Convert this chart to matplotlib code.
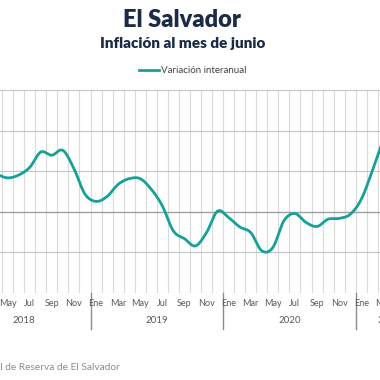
import numpy as np
import matplotlib
matplotlib.use("Agg")
import matplotlib.pyplot as plt
from matplotlib.lines import Line2D
import matplotlib.transforms as mtransforms

# ---- data ----
month_labels = ["Ene", "Feb", "Mar", "Abr", "May", "Jun", "Jul", "Ago", "Sep", "Oct", "Nov", "Dic"]
years = ["2018", "2019", "2020", "2021"]
n_months = 42  # Jan 2018 .. Jun 2021 (categories on axis)
series_start = 3  # series starts Apr 2018
inflation = [0.92, 0.83, 0.90, 1.09, 1.47, 1.39, 1.51, 1.06, 0.43,      # Apr-Dec 2018
             0.25, 0.37, 0.67, 0.81, 0.81, 0.55, 0.14, -0.48, -0.67, -0.85, -0.52, 0.01,  # 2019
             -0.15, -0.38, -0.52, -0.97, -0.89, -0.23, -0.05, -0.27, -0.37, -0.19, -0.17, -0.07,  # 2020
             0.30, 1.00, 1.78]                                        # Jan-Mar 2021
series_name = "Variación interanual"

teal = "#17a098"

def catmull_rom(x, y, n=20):
    x = np.asarray(x, float); y = np.asarray(y, float)
    px = np.concatenate([[2*x[0]-x[1]], x, [2*x[-1]-x[-2]]])
    py = np.concatenate([[2*y[0]-y[1]], y, [2*y[-1]-y[-2]]])
    xs, ys = [], []
    t = np.linspace(0, 1, n, endpoint=False)
    for i in range(1, len(px)-2):
        p0, p1, p2, p3 = py[i-1], py[i], py[i+1], py[i+2]
        q0, q1, q2, q3 = px[i-1], px[i], px[i+1], px[i+2]
        f = lambda a0, a1, a2, a3: 0.5*((2*a1) + (-a0+a2)*t + (2*a0-5*a1+4*a2-a3)*t**2 + (-a0+3*a1-3*a2+a3)*t**3)
        xs.append(f(q0, q1, q2, q3)); ys.append(f(p0, p1, p2, p3))
    xs.append([x[-1]]); ys.append([y[-1]])
    return np.concatenate(xs), np.concatenate(ys)

fig = plt.figure(figsize=(3.8, 3.8), dpi=100)
W = H = 380.0
left_px = -42.1
step = 11.05
ax = fig.add_axes([left_px/W, (H-292.5)/H, (n_months*step)/W, (292.5-90)/H])
ax.set_xlim(-0.5, n_months-0.5)
ax.set_ylim(-2, 3)
for s in ax.spines.values():
    s.set_visible(False)
ax.set_xticks([]); ax.set_yticks([])

# gridlines
for b in np.arange(-0.5, n_months, 1.0):
    ax.axvline(b, color="#dadada", lw=0.8, zorder=1)
for v in range(-2, 4):
    ax.axhline(v, color="#9f9f9f" if v == 0 else "#c4c4c4", lw=1.0 if v == 0 else 0.8, zorder=1)

xs = np.arange(series_start, series_start+len(inflation))
sx, sy = catmull_rom(xs, inflation)
ax.plot(sx, sy, color=teal, lw=2.0, solid_capstyle="round", zorder=3, clip_on=True)

trans = mtransforms.blended_transform_factory(ax.transData, ax.transAxes)
axh = 292.5 - 90
for i in range(n_months):
    if i % 2 == 0:
        ax.text(i, -11/axh, month_labels[i % 12], transform=trans, ha="center", va="center",
                fontsize=6.5, color="#595959", family="Lato", clip_on=False)
for k, yr in enumerate(years):
    c = 12*k + 5.5
    if k == 3:
        c = 36 + 2.5
    ax.text(c, -28.2/axh, yr, transform=trans, ha="center", va="center",
            fontsize=7, color="#595959", family="Lato", clip_on=False)
for k in range(1, 4):
    ax.plot([12*k-0.5, 12*k-0.5], [0, -36/axh], transform=trans, color="#8c8c8c", lw=1.0, clip_on=False)

fig.text(0.478, 1-20/H, "El Salvador", ha="center", va="center", fontsize=17,
         fontweight="heavy", color="#1b2a47", family="Lato")
fig.text(0.48, 1-43/H, "Inflación al mes de junio", ha="center", va="center", fontsize=11,
         fontweight="heavy", color="#1b2a47", family="Lato")

handle = Line2D([], [], color=teal, lw=2.0)
fig.legend([handle], [series_name], loc="center", bbox_to_anchor=(0.507, 1-70.7/H),
           frameon=False, handlelength=2.0, handletextpad=0.2,
           labelcolor="#444444", prop={"family": "Lato", "size": 7})

fig.text(120/W, 1-367.3/H, "Fuente: Banco Central de Reserva de El Salvador", ha="right", va="center",
         fontsize=7.3, color="#8c8c8c", family="Lato")

fig.savefig("out.png", dpi=100)
